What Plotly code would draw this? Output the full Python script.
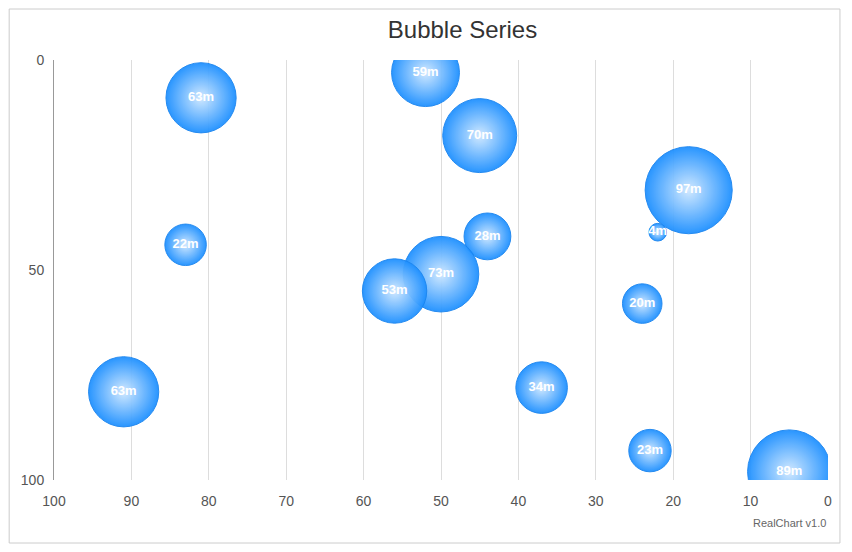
import plotly.graph_objects as go

xs = [81, 52, 45, 18, 22, 44, 83, 50, 56, 24, 91, 37, 23, 5]
ys = [9, 3, 18, 31, 41, 42, 44, 51, 55, 58, 79, 78, 93, 98]
vals = [63, 59, 70, 97, 4, 28, 22, 73, 53, 20, 63, 34, 23, 89]
labels = [f"<b>{v}m</b>" for v in vals]

W, H, L, R, T, B = 836, 536, 46, 13, 52, 64
pw, ph = W - L - R, H - T - B

fig = go.Figure(go.Scatter(
    x=xs, y=ys, mode="markers+text", text=labels,
    textfont=dict(color="white", size=13, family="Liberation Sans"),
    textposition="middle center",
    marker=dict(size=vals, sizemode="area", sizeref=97/86**2*1.95, sizemin=8,
                color="#1e90ff", opacity=0.95,
                gradient=dict(type="radial", color="#cfe8ff"),
                line=dict(color="#1a85f0", width=1)),
    cliponaxis=True, hoverinfo="x+y+text"))

fig.update_layout(
    width=W, height=H, plot_bgcolor="white", paper_bgcolor="white",
    margin=dict(l=L, r=R, t=T, b=B), showlegend=False,
    font=dict(family="Liberation Sans", color="#555", size=14),
    title=dict(text="Bubble Series", x=(L + 0.5 * pw + 20) / W, y=1 - 22 / H, xanchor="center",
               yanchor="middle", font=dict(size=24, color="#333")),
    xaxis=dict(range=[100, 0], tickvals=list(range(0, 101, 10)),
               showgrid=True, gridcolor="#ddd", zeroline=False, ticks="outside",
               tickcolor="rgba(0,0,0,0)", ticklen=8, showline=False),
    yaxis=dict(range=[100, 0], tickvals=[0, 50, 100], showgrid=False, zeroline=False,
               showline=True, linecolor="#999", ticks="outside",
               tickcolor="rgba(0,0,0,0)", ticklen=6),
    shapes=[dict(type="rect", xref="paper", yref="paper",
                 x0=-(L - 1) / pw, x1=1 + (R - 1) / pw,
                 y0=-(B - 1) / ph, y1=1 + (T - 1) / ph,
                 line=dict(color="#ccc", width=1))],
    annotations=[dict(text="RealChart v1.0", xref="paper", yref="paper", x=1, y=-43 / ph,
                      xanchor="right", yanchor="middle", showarrow=False,
                      font=dict(size=11, color="#666"))])

fig.write_html("out.html")
